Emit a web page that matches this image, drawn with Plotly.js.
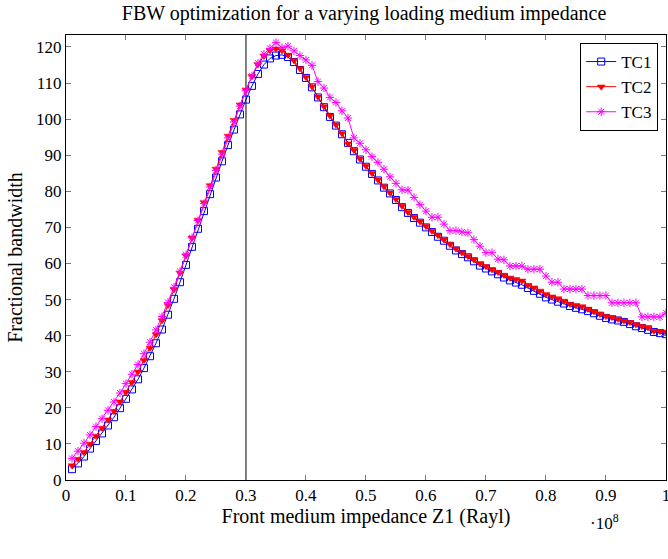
<!DOCTYPE html>
<html>
<head>
<meta charset="utf-8">
<script src="https://cdn.plot.ly/plotly-3.0.1.min.js"></script>
<style>
  html, body { margin: 0; padding: 0; background: #fff; }
  #chart { width: 668px; height: 559px; }
</style>
</head>
<body>
<div id="chart"></div>
<script>
// Front medium impedance Z1, in units of 1e8 Rayl
const z1 = [0.01,0.02,0.03,0.04,0.05,0.06,0.07,0.08,0.09,0.10,
            0.11,0.12,0.13,0.14,0.15,0.16,0.17,0.18,0.19,0.20,
            0.21,0.22,0.23,0.24,0.25,0.26,0.27,0.28,0.29,0.30,
            0.31,0.32,0.33,0.34,0.35,0.36,0.37,0.38,0.39,0.40,
            0.41,0.42,0.43,0.44,0.45,0.46,0.47,0.48,0.49,0.50,
            0.51,0.52,0.53,0.54,0.55,0.56,0.57,0.58,0.59,0.60,
            0.61,0.62,0.63,0.64,0.65,0.66,0.67,0.68,0.69,0.70,
            0.71,0.72,0.73,0.74,0.75,0.76,0.77,0.78,0.79,0.80,
            0.81,0.82,0.83,0.84,0.85,0.86,0.87,0.88,0.89,0.90,
            0.91,0.92,0.93,0.94,0.95,0.96,0.97,0.98,0.99,1.00];

const tc1 = [3.0,4.6,6.5,8.7,10.8,12.9,15.1,17.4,19.9,22.5,
             25.1,27.9,31.0,34.3,37.9,41.7,45.8,50.2,54.8,59.6,
             64.6,69.6,74.5,79.2,83.8,88.3,92.8,97.1,101.3,105.4,
             109.2,112.5,115.1,116.8,117.6,117.8,117.2,115.8,113.6,111.4,
             108.8,106.0,103.3,100.6,98.2,95.8,93.4,91.1,88.8,86.8,
             84.8,83.0,81.0,79.4,77.6,75.6,74.0,72.6,71.3,70.0,
             68.7,67.4,66.3,64.9,63.6,62.6,61.7,60.6,59.4,58.6,
             57.8,57.0,56.1,55.3,54.7,54.1,53.2,52.4,51.6,50.6,
             50.0,49.4,48.9,48.2,47.7,47.3,46.8,46.2,45.5,44.9,
             44.5,44.2,43.8,43.2,42.6,42.1,41.6,41.0,40.7,40.4];

const tc2 = [4.0,5.8,7.7,10.0,12.2,14.4,16.7,19.1,21.7,24.4,
             27.1,30.0,33.2,36.6,40.3,44.2,48.4,52.8,57.4,62.2,
             67.1,72.0,76.9,81.6,86.2,90.8,95.3,99.7,104.0,108.1,
             111.9,115.1,117.5,119.0,119.5,119.0,117.8,116.2,114.0,111.6,
             109.0,106.2,103.5,100.9,98.4,96.0,93.2,91.4,89.0,87.0,
             85.0,83.2,81.3,79.6,77.8,75.9,74.2,72.9,71.6,70.3,
             69.0,67.8,66.6,65.3,64.1,63.0,62.0,61.0,60.0,59.2,
             58.3,57.6,56.8,56.0,55.6,55.2,54.0,53.3,52.4,51.5,
             50.8,50.3,49.6,48.8,48.4,48.1,47.4,46.7,46.0,45.4,
             45.1,44.6,44.1,43.7,43.1,42.6,42.3,41.3,41.2,41.0];

const tc3 = [6.0,8.0,10.2,12.5,14.8,17.0,19.3,21.6,24.1,26.7,
             29.3,32.0,35.0,38.2,41.6,45.3,49.2,53.4,57.8,62.4,
             67.1,71.9,76.6,81.2,85.8,90.3,94.8,99.2,103.6,107.9,
             112.0,115.5,118.0,119.6,121.2,119.8,120.2,118.9,117.6,116.4,
             114.9,110.4,108.6,106.0,104.6,102.3,100.3,94.8,93.3,91.5,
             89.6,88.0,86.1,84.0,82.2,80.4,80.3,78.3,76.3,74.5,
             72.8,72.8,70.9,69.1,69.1,68.7,68.5,66.6,64.8,63.0,
             63.0,61.2,61.0,59.3,59.3,59.3,58.4,58.4,58.4,56.5,
             54.8,54.8,52.9,52.9,52.9,52.9,51.1,51.1,51.1,51.1,
             49.1,49.1,49.1,49.1,49.1,45.2,45.2,45.2,45.2,46.3];

const seriesNames = ['TC1', 'TC2', 'TC3'];
const xTickVals = [0,0.1,0.2,0.3,0.4,0.5,0.6,0.7,0.8,0.9,1];
const xTickText = ['0','0.1','0.2','0.3','0.4','0.5','0.6','0.7','0.8','0.9','1'];
const yTickVals = [0,10,20,30,40,50,60,70,80,90,100,110,120];
const markerLine = 0.3;

const FONT = 'Liberation Serif, Times New Roman, serif';

const traces = [
  { x: z1, y: tc1, name: seriesNames[0], type: 'scatter', mode: 'lines+markers',
    line: { color: '#0000ff', width: 1 },
    marker: { symbol: 'square-open', size: 7, color: '#0000ff', line: { width: 1, color: '#0000ff' } } },
  { x: z1, y: tc2, name: seriesNames[1], type: 'scatter', mode: 'lines+markers',
    line: { color: '#ff0000', width: 1 },
    marker: { symbol: 'triangle-down', size: 7, color: '#ff0000', line: { width: 0.5, color: '#ff0000' } } },
  { x: z1, y: tc3, name: seriesNames[2], type: 'scatter', mode: 'lines+markers',
    line: { color: '#ff00ff', width: 1 },
    marker: { symbol: 'asterisk-open', size: 7, color: '#ff00ff', line: { width: 1, color: '#ff00ff' } } }
];

const layout = {
  width: 668, height: 559,
  margin: { l: 66, r: 2, t: 35, b: 79 },
  paper_bgcolor: '#fff', plot_bgcolor: '#fff',
  font: { family: FONT, color: '#000', size: 17 },
  title: { text: 'FBW optimization for a varying loading medium impedance',
           font: { family: FONT, size: 20, color: '#000' },
           x: 0.545, xanchor: 'center', y: 0.99, yanchor: 'top' },
  showlegend: true,
  legend: { x: 0.987, xanchor: 'right', y: 0.982, yanchor: 'top',
            bgcolor: '#fff', bordercolor: '#000', borderwidth: 1,
            font: { family: FONT, size: 17, color: '#000' },
            tracegroupgap: 0, itemwidth: 30 },
  xaxis: {
    range: [0, 1.0001], tickvals: xTickVals, ticktext: xTickText,
    ticklabeloverflow: 'allow',
    showgrid: false, zeroline: false,
    showline: true, linecolor: '#000', linewidth: 1, mirror: 'allticks',
    ticks: 'inside', ticklen: 5, tickcolor: '#777', tickwidth: 1,
    tickfont: { family: FONT, size: 17, color: '#000' },
    title: { text: 'Front medium impedance Z1 (Rayl)', standoff: 4,
             font: { family: FONT, size: 20, color: '#000' } }
  },
  yaxis: {
    range: [0, 123.3], tickvals: yTickVals,
    showgrid: false, zeroline: false,
    showline: true, linecolor: '#000', linewidth: 1, mirror: 'allticks',
    ticks: 'inside', ticklen: 5, tickcolor: '#777', tickwidth: 1,
    tickfont: { family: FONT, size: 17, color: '#000' },
    title: { text: 'Fractional bandwidth', standoff: 8,
             font: { family: FONT, size: 20, color: '#000' } }
  },
  shapes: [
    { type: 'line', xref: 'x', yref: 'paper', x0: markerLine, x1: markerLine, y0: 0, y1: 1,
      line: { color: '#000', width: 1 }, layer: 'below' }
  ],
  annotations: [
    { text: '\u00b710<sup>8</sup>', xref: 'paper', yref: 'paper', x: 0.897, y: 0,
      xanchor: 'center', yanchor: 'top', yshift: -29, showarrow: false,
      font: { family: FONT, size: 17, color: '#000' } }
  ]
};

Plotly.newPlot('chart', traces, layout, { displayModeBar: false, staticPlot: true });
</script>
</body>
</html>
